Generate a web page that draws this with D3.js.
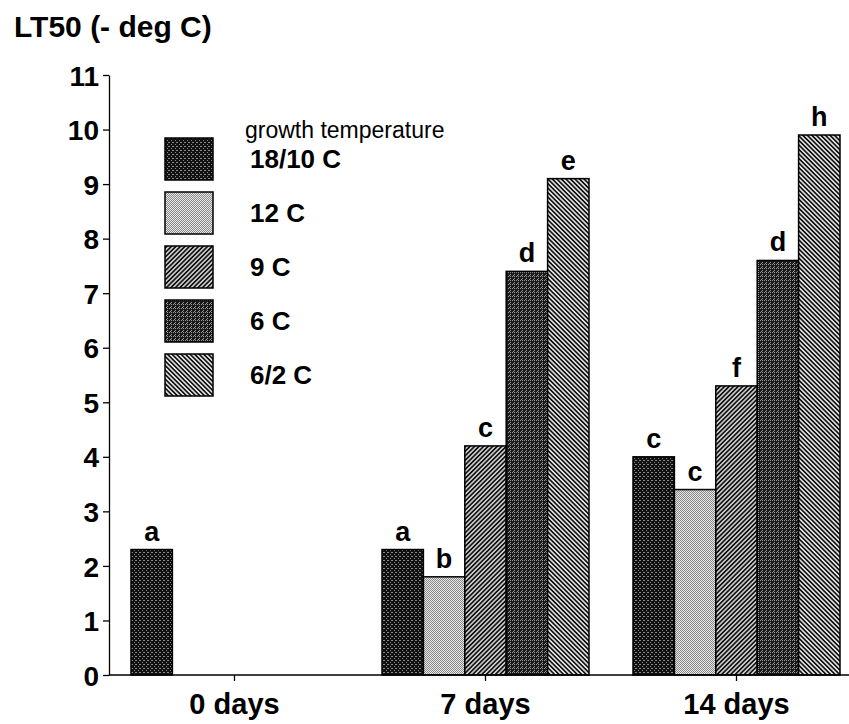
<!DOCTYPE html>
<html>
<head>
<meta charset="utf-8">
<script src="https://cdn.jsdelivr.net/npm/d3@7"></script>
<style>
  body { margin: 0; background: #fff; }
  text { font-family: "Liberation Sans", Arial, sans-serif; font-weight: bold; fill: #000; }
  .axis path, .axis line { stroke: #000; stroke-width: 1.3; }
</style>
</head>
<body>
<div id="graph"></div>
<script>
// data
var periods = ["0 days", "7 days", "14 days"];
var temps = ["18/10 C", "12 C", "9 C", "6 C", "6/2 C"];
var lt50_18_10 = [2.3, 2.3, 4.0];
var lt50_12 = [null, 1.8, 3.4];
var lt50_9 = [null, 4.2, 5.3];
var lt50_6 = [null, 7.4, 7.6];
var lt50_6_2 = [null, 9.1, 9.9];
var letters_18_10 = ["a", "a", "c"];
var letters_12 = [null, "b", "c"];
var letters_9 = [null, "c", "f"];
var letters_6 = [null, "d", "d"];
var letters_6_2 = [null, "e", "h"];
var yTicks = [0, 1, 2, 3, 4, 5, 6, 7, 8, 9, 10, 11];

var seriesVals = [lt50_18_10, lt50_12, lt50_9, lt50_6, lt50_6_2];
var seriesLetters = [letters_18_10, letters_12, letters_9, letters_6, letters_6_2];

var width = 849, height = 724;
var margin = { top: 75, right: 0, bottom: 49, left: 109 };

var svg = d3.select("#graph").append("svg")
  .attr("width", width)
  .attr("height", height);

// fill patterns imitating the printed screens
var defs = svg.append("defs");

function stipple(id, bg, fg, dots) {
  var p = defs.append("pattern").attr("id", id)
    .attr("patternUnits", "userSpaceOnUse")
    .attr("width", 4).attr("height", 4);
  p.append("rect").attr("width", 4).attr("height", 4).attr("fill", bg);
  dots.forEach(function(d) {
    p.append("rect").attr("x", d[0]).attr("y", d[1])
      .attr("width", 1).attr("height", 1).attr("fill", fg);
  });
}
stipple("pat1810", "#111", "#888", [[0, 0], [2, 2], [3, 0]]);
stipple("pat12", "#e6e6e6", "#8a8a8a", [[0, 0], [2, 0], [1, 1], [3, 1], [0, 2], [2, 2], [1, 3], [3, 3]]);
stipple("pat6", "#1a1a1a", "#999", [[0, 0], [2, 2], [2, 0], [1, 3]]);

function hatch(id, angle, bg, line, w) {
  var p = defs.append("pattern").attr("id", id)
    .attr("patternUnits", "userSpaceOnUse")
    .attr("width", 3.2).attr("height", 3.2)
    .attr("patternTransform", "rotate(" + angle + ")");
  p.append("rect").attr("width", 3.2).attr("height", 3.2).attr("fill", bg);
  p.append("line").attr("x1", 1.6).attr("y1", 0).attr("x2", 1.6).attr("y2", 3.2)
    .attr("stroke", line).attr("stroke-width", w);
}
hatch("pat9", 45, "#f4f4f4", "#111", 1.9);
hatch("pat62", -45, "#f4f4f4", "#111", 1.75);

var fills = ["url(#pat1810)", "url(#pat12)", "url(#pat9)", "url(#pat6)", "url(#pat62)"];

var x0 = d3.scaleBand().domain(periods).range([margin.left, margin.left + 753]);
var x1 = d3.scaleBand().domain(temps).range([22, x0.bandwidth() - 22]);
var y = d3.scaleLinear().domain([0, 11]).range([height - margin.bottom, margin.top]);

// bars
var bars = [];
periods.forEach(function(p, i) {
  temps.forEach(function(t, j) {
    var v = seriesVals[j][i];
    if (v != null) bars.push({ period: p, temp: t, j: j, value: v, letter: seriesLetters[j][i] });
  });
});

svg.append("g").selectAll("rect")
  .data(bars)
  .enter().append("rect")
  .attr("x", function(d) { return x0(d.period) + x1(d.temp); })
  .attr("y", function(d) { return y(d.value); })
  .attr("width", x1.bandwidth())
  .attr("height", function(d) { return y(0) - y(d.value); })
  .attr("fill", function(d) { return fills[d.j]; })
  .attr("stroke", "#000")
  .attr("stroke-width", 1.5);

svg.append("g").selectAll("text")
  .data(bars)
  .enter().append("text")
  .attr("x", function(d) { return x0(d.period) + x1(d.temp) + x1.bandwidth() / 2; })
  .attr("y", function(d) { return y(d.value) - 9; })
  .attr("text-anchor", "middle")
  .style("font-size", "27px")
  .text(function(d) { return d.letter; });

// Y axis
var yAxis = svg.append("g")
  .attr("class", "axis")
  .attr("transform", "translate(" + margin.left + ",0)")
  .call(d3.axisLeft(y).tickValues(yTicks).tickSize(6).tickSizeOuter(0).tickPadding(4));
yAxis.selectAll("text").style("font-size", "28px").attr("dy", "0.36em");

// X axis
var xAxis = svg.append("g")
  .attr("class", "axis")
  .attr("transform", "translate(0," + y(0) + ")")
  .call(d3.axisBottom(x0).tickSize(6).tickSizeOuter(0).tickPadding(12));
xAxis.select(".domain").attr("d", "M" + margin.left + ",0H" + width);
xAxis.selectAll("text").style("font-size", "29px").attr("dy", "0.71em");

// Y title
svg.append("text")
  .attr("x", 14)
  .attr("y", 37)
  .style("font-size", "30px")
  .text("LT50 (- deg C)");

// legend
svg.append("text")
  .attr("x", 245)
  .attr("y", 138)
  .style("font-size", "23px")
  .style("font-weight", "normal")
  .text("growth temperature");

var legend = svg.append("g").selectAll("g")
  .data(temps)
  .enter().append("g")
  .attr("transform", function(d, i) { return "translate(165," + (138 + i * 54) + ")"; });

legend.append("rect")
  .attr("width", 48)
  .attr("height", 42)
  .attr("fill", function(d, i) { return fills[i]; })
  .attr("stroke", "#000")
  .attr("stroke-width", 1.5);

legend.append("text")
  .attr("x", 85)
  .attr("y", 30)
  .style("font-size", "26px")
  .text(function(d) { return d; });
</script>
</body>
</html>
